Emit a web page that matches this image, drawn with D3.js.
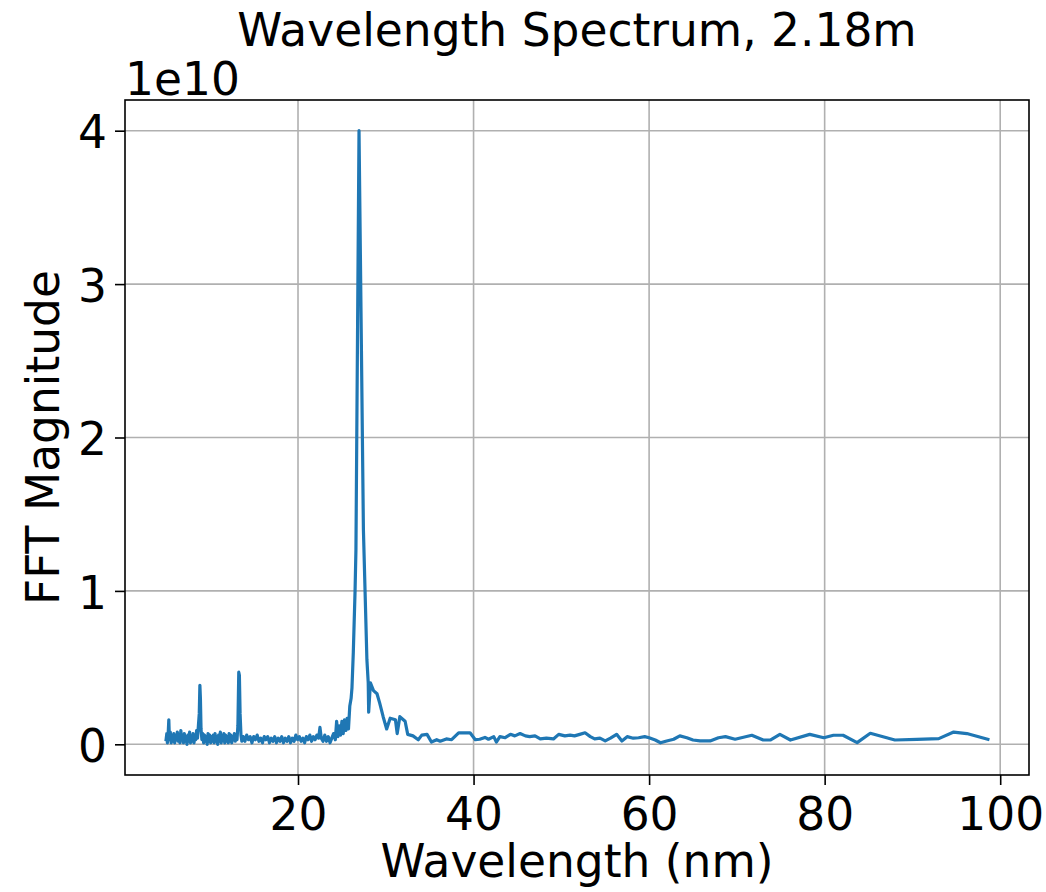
<!DOCTYPE html>
<html>
<head>
<meta charset="utf-8">
<script src="https://cdn.jsdelivr.net/npm/d3@7"></script>
<style>
  html, body { margin: 0; padding: 0; background: #ffffff; }
  svg { display: block; }
  text { font-family: "DejaVu Sans", sans-serif; fill: #000; }
</style>
</head>
<body>
<svg id="chart" width="1046" height="892"></svg>
<script>
// ---- data (wavelength in nm, FFT magnitude in units of 1e10) ----
const wavelengths = [
  4.97, 5.05, 5.12, 5.2, 5.28, 5.35, 5.45, 5.55, 5.65, 5.75, 5.85, 5.95, 6.05, 6.15, 6.25, 6.35, 6.45, 6.55, 6.65, 6.75,
  6.85, 6.95, 7.05, 7.15, 7.25, 7.35, 7.45, 7.55, 7.65, 7.75, 7.85, 7.95, 8.05, 8.15, 8.25, 8.35, 8.45, 8.55, 8.65, 8.75,
  8.82, 8.88, 8.95, 9.05, 9.15, 9.25, 9.35, 9.45, 9.55, 9.65, 9.75, 9.85, 9.95, 10.05, 10.15, 10.25, 10.35, 10.45, 10.55, 10.65,
  10.75, 10.85, 10.95, 11.05, 11.15, 11.25, 11.35, 11.45, 11.55, 11.65, 11.75, 11.85, 11.95, 12.05, 12.15, 12.25, 12.35, 12.45, 12.55, 12.65,
  12.75, 12.85, 12.95, 13.05, 13.15, 13.25, 13.32, 13.4, 13.5, 13.6, 13.75, 13.95, 14.15, 14.35, 14.55, 14.75, 14.95, 15.15, 15.35, 15.55,
  15.75, 15.95, 16.15, 16.35, 16.55, 16.75, 16.95, 17.15, 17.35, 17.55, 17.75, 17.95, 18.15, 18.35, 18.55, 18.75, 18.95, 19.15, 19.35, 19.55,
  19.75, 19.95, 20.15, 20.35, 20.55, 20.75, 20.95, 21.15, 21.35, 21.55, 21.75, 21.95, 22.15, 22.35, 22.5, 22.65, 22.85, 23.05, 23.25, 23.45,
  23.65, 23.85, 24.05, 24.25, 24.4, 24.55, 24.7, 24.85, 25.0, 25.15, 25.3, 25.45, 25.6, 25.75, 25.9, 26.05, 26.15, 26.3, 26.5, 26.6,
  26.95, 27.45, 27.85, 28.0, 28.05, 28.25, 28.6, 29.0, 29.3, 29.7, 30.1, 30.5, 31.1, 31.3, 31.6, 31.8, 32.2, 32.5, 33.1, 33.7,
  34.1, 34.7, 35.2, 35.8, 36.2, 36.9, 37.5, 38.3, 39.2, 39.6, 40.2, 40.7, 41.3, 41.7, 42.3, 42.6, 43.0, 43.6, 44.2, 44.7,
  45.3, 45.9, 46.4, 47.0, 47.6, 48.3, 49.1, 49.7, 50.4, 51.0, 51.5, 52.1, 52.7, 53.3, 53.8, 54.4, 55.0, 55.6, 56.3, 56.9,
  57.5, 58.2, 58.8, 59.5, 60.0, 60.7, 61.3, 62.0, 62.8, 63.5, 64.3, 65.0, 65.8, 66.95, 67.9, 68.7, 69.8, 71.7, 73.0, 73.8,
  74.9, 76.1, 78.3, 79.9, 81.0, 82.1, 83.7, 85.2, 88.0, 90.5, 93.0, 94.7, 96.2, 98.6
];
const magnitudes = [
  0.03, 0.07, 0.01, 0.06, 0.16, 0.03, 0.08, 0.01, 0.06, 0.02, 0.07, 0.01, 0.05, 0.03, 0.08, 0.02, 0.06, 0.01, 0.09, 0.03,
  0.06, 0.01, 0.07, 0.02, 0.05, 0.0, 0.06, 0.02, 0.08, 0.01, 0.05, 0.02, 0.07, 0.01, 0.06, 0.03, 0.09, 0.04, 0.12, 0.2,
  0.385, 0.3, 0.1, 0.03, 0.07, 0.01, 0.06, 0.02, 0.05, 0.0, 0.07, 0.02, 0.06, 0.01, 0.05, 0.02, 0.06, 0.01, 0.07, 0.02,
  0.05, 0.0, 0.06, 0.02, 0.08, 0.01, 0.05, 0.03, 0.07, 0.01, 0.06, 0.02, 0.05, 0.01, 0.07, 0.02, 0.06, 0.01, 0.05, 0.03,
  0.07, 0.02, 0.06, 0.03, 0.12, 0.47, 0.45, 0.2, 0.06, 0.02, 0.05, 0.02, 0.06, 0.03, 0.05, 0.01, 0.05, 0.03, 0.06, 0.02,
  0.04, 0.01, 0.05, 0.03, 0.05, 0.01, 0.04, 0.02, 0.05, 0.01, 0.04, 0.02, 0.05, 0.01, 0.04, 0.02, 0.05, 0.01, 0.04, 0.02,
  0.06, 0.03, 0.05, 0.02, 0.04, 0.01, 0.05, 0.03, 0.06, 0.02, 0.05, 0.03, 0.06, 0.04, 0.11, 0.04, 0.02, 0.06, 0.02, 0.05,
  0.01, 0.04, 0.07, 0.03, 0.15, 0.05, 0.12, 0.06, 0.15, 0.07, 0.16, 0.09, 0.17, 0.1, 0.25, 0.3, 0.37, 0.6, 1.0, 1.27,
  4.0, 1.4, 0.55, 0.4, 0.21, 0.4, 0.35, 0.33, 0.27, 0.18, 0.1, 0.17, 0.16, 0.07, 0.18, 0.17, 0.15, 0.065, 0.055, 0.03,
  0.06, 0.065, 0.015, 0.03, 0.02, 0.035, 0.03, 0.075, 0.075, 0.075, 0.03, 0.033, 0.045, 0.033, 0.05, 0.015, 0.05, 0.043, 0.065, 0.055,
  0.07, 0.055, 0.05, 0.055, 0.035, 0.04, 0.035, 0.065, 0.055, 0.06, 0.055, 0.065, 0.075, 0.05, 0.035, 0.04, 0.022, 0.04, 0.065, 0.022,
  0.05, 0.04, 0.043, 0.05, 0.043, 0.028, 0.01, 0.022, 0.033, 0.055, 0.043, 0.028, 0.022, 0.022, 0.043, 0.05, 0.033, 0.059, 0.028, 0.028,
  0.065, 0.028, 0.065, 0.043, 0.059, 0.059, 0.011, 0.072, 0.028, 0.032, 0.037, 0.080, 0.07, 0.033
];
const xTicks = [20, 40, 60, 80, 100];
const yTicks = [0, 1, 2, 3, 4];
const titleText = "Wavelength Spectrum, 2.18m";
const xLabelText = "Wavelength (nm)";
const yLabelText = "FFT Magnitude";
const offsetText = "1e10";

// ---- layout ----
const plot = { left: 125, right: 1029, top: 100, bottom: 775 };
const fontSize = 45.5;

const svg = d3.select("#chart");
const points = wavelengths.map((w, i) => ({ x: w, y: magnitudes[i] }));

// matplotlib-style 5% margins
const xExt = d3.extent(wavelengths), yExt = d3.extent(magnitudes);
const xPad = (xExt[1] - xExt[0]) * 0.05, yPad = (yExt[1] - yExt[0]) * 0.05;
const x = d3.scaleLinear().domain([xExt[0] - xPad, xExt[1] + xPad]).range([plot.left, plot.right]);
const y = d3.scaleLinear().domain([yExt[0] - yPad, yExt[1] + yPad]).range([plot.bottom, plot.top]);

// grid
const grid = svg.append("g");
grid.selectAll("line.gx").data(xTicks).join("line")
  .attr("x1", d => x(d)).attr("x2", d => x(d))
  .attr("y1", plot.top).attr("y2", plot.bottom)
  .attr("stroke", "#b0b0b0").attr("stroke-width", 1.6);
grid.selectAll("line.gy").data(yTicks).join("line")
  .attr("y1", d => y(d)).attr("y2", d => y(d))
  .attr("x1", plot.left).attr("x2", plot.right)
  .attr("stroke", "#b0b0b0").attr("stroke-width", 1.6);

// line
const clipId = "plotclip";
svg.append("clipPath").attr("id", clipId).append("rect")
  .attr("x", plot.left).attr("y", plot.top)
  .attr("width", plot.right - plot.left).attr("height", plot.bottom - plot.top);
svg.append("path")
  .datum(points)
  .attr("clip-path", `url(#${clipId})`)
  .attr("fill", "none")
  .attr("stroke", "#1f77b4")
  .attr("stroke-width", 3.2)
  .attr("stroke-linejoin", "round")
  .attr("stroke-linecap", "square")
  .attr("d", d3.line().x(d => x(d.x)).y(d => y(d.y)));

// axes
const xAxis = svg.append("g").attr("transform", `translate(0,${plot.bottom})`)
  .call(d3.axisBottom(x).tickValues(xTicks).tickSize(10).tickPadding(11).tickFormat(d3.format("d")));
const yAxis = svg.append("g").attr("transform", `translate(${plot.left},0)`)
  .call(d3.axisLeft(y).tickValues(yTicks).tickSize(10).tickPadding(8).tickFormat(d3.format("d")));
[xAxis, yAxis].forEach(a => {
  a.select(".domain").remove();
  a.selectAll(".tick line").attr("stroke", "#000").attr("stroke-width", 1.6);
  a.selectAll(".tick text").attr("font-family", "DejaVu Sans").attr("font-size", fontSize).attr("fill", "#000");
});
xAxis.selectAll(".tick text").attr("dy", "0.74em");
yAxis.selectAll(".tick text").attr("dy", "0.38em");

// frame (spines)
svg.append("rect")
  .attr("x", plot.left).attr("y", plot.top)
  .attr("width", plot.right - plot.left).attr("height", plot.bottom - plot.top)
  .attr("fill", "none").attr("stroke", "#000").attr("stroke-width", 1.6);

// texts
svg.append("text").attr("x", (plot.left + plot.right) / 2).attr("y", 46)
  .attr("text-anchor", "middle").attr("font-size", fontSize).text(titleText);
svg.append("text").attr("x", (plot.left + plot.right) / 2).attr("y", 877)
  .attr("text-anchor", "middle").attr("font-size", fontSize).text(xLabelText);
svg.append("text")
  .attr("transform", `translate(59,${(plot.top + plot.bottom) / 2}) rotate(-90)`)
  .attr("text-anchor", "middle").attr("font-size", fontSize).text(yLabelText);
svg.append("text").attr("x", plot.left).attr("y", 95)
  .attr("text-anchor", "start").attr("font-size", fontSize).text(offsetText);
</script>
</body>
</html>
